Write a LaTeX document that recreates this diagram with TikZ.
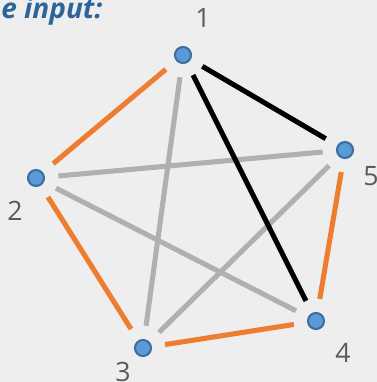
\documentclass[tikz,border=0pt]{standalone}
\usepackage{fontspec}
\setmainfont{Open Sans}
\definecolor{graphBack}{HTML}{EEEEEE}
\definecolor{graphTitle}{HTML}{2E6599}
\definecolor{graphFill}{HTML}{5B9BD5}
\definecolor{graphRim}{HTML}{3A6FA3}
\definecolor{graphOrange}{HTML}{ED7D31}
\definecolor{graphGray}{HTML}{B0B0B0}
\definecolor{graphLabel}{HTML}{595959}

\begin{document}
\begin{tikzpicture}[x=0.75pt,y=-0.75pt,
  vertex/.style={circle,draw=graphRim,fill=graphFill,line width=1.6pt,minimum size=12pt,inner sep=0pt},
  vlabel/.style={text=graphLabel,inner sep=0pt,font=\fontsize{20}{24}\selectfont},
  edge/.style={line width=3.8pt,shorten <=10pt,shorten >=10pt}]
  \path[fill=graphBack,use as bounding box] (0,0) rectangle (377,382);
  \begin{scope}
    \clip (0,0) rectangle (377,382);
    \node[anchor=base west,inner sep=0pt,text=graphTitle,
      font=\bfseries\itshape\fontsize{21}{25}\selectfont] (title) at (1,18) {e input:};
  \end{scope}

  \foreach \name/\x/\y/\lx/\ly in {1/183/55/203/18, 2/36/178/15/211, 3/143/348/123/372,
      4/316/321/343/353, 5/345/150/371/176}{
    \node[vertex] (v\name) at (\x,\y) {};
    \node[vlabel] (lab\name) at (\lx,\ly) {\name};
  }

  % gray edges first
  \foreach \a/\b in {1/3, 2/5, 2/4, 3/5}
    \draw[edge,graphGray] (v\a) -- (v\b);
  \foreach \a/\b in {1/5, 1/4}
    \draw[edge,black] (v\a) -- (v\b);
  \foreach \a/\b in {1/2, 2/3, 3/4, 4/5}
    \draw[edge,graphOrange] (v\a) -- (v\b);
\end{tikzpicture}
\end{document}
